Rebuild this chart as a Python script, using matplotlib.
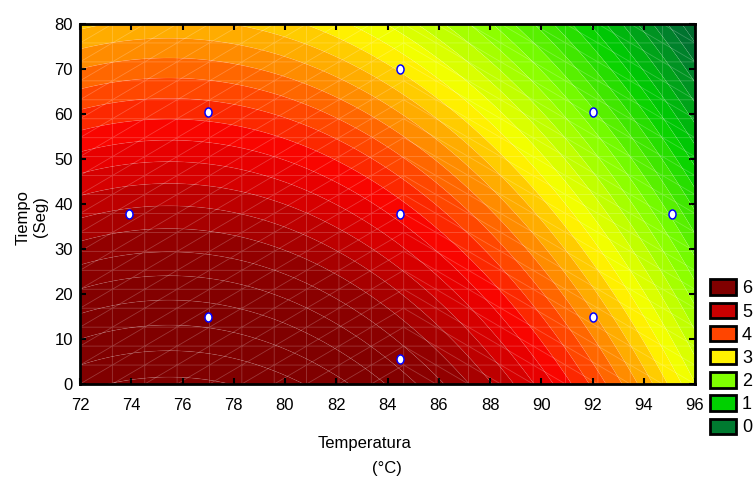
import numpy as np
import matplotlib
matplotlib.use('Agg')
import matplotlib.pyplot as plt
import matplotlib.tri as mtri
from matplotlib.colors import LinearSegmentedColormap
from matplotlib.patches import Patch
from matplotlib.path import Path
from matplotlib.transforms import Affine2D

# Diseño central compuesto (puntos experimentales) y respuesta ajustada
temperatura = [73.9, 77.0, 77.0, 84.5, 84.5, 84.5, 92.0, 92.0, 95.1]
tiempo = [37.75, 60.5, 15.0, 69.9, 37.75, 5.6, 60.5, 15.0, 37.75]
respuesta = [5.25, 4.31, 6.11, 3.17, 4.53, 5.72, 1.84, 3.64, 1.76]

# Leyenda (niveles y colores)
niveles_leyenda = [6, 5, 4, 3, 2, 1, 0]
colores_leyenda = ['#800000', '#c80000', '#ff4500', '#fff200', '#80ff00', '#00d000', '#007a30']

x_ticks = [72, 74, 76, 78, 80, 82, 84, 86, 88, 90, 92, 94, 96]
y_ticks = [0, 10, 20, 30, 40, 50, 60, 70, 80]

plt.rcParams['font.family'] = ['Liberation Sans', 'DejaVu Sans']

# Ajuste de superficie de respuesta cuadrática
t = np.array(temperatura)
s = np.array(tiempo)
A = np.column_stack([np.ones_like(t), t, s, t**2, s**2, t * s])
coef, *_ = np.linalg.lstsq(A, np.array(respuesta), rcond=None)

def superficie(x, y):
    return coef[0] + coef[1]*x + coef[2]*y + coef[3]*x**2 + coef[4]*y**2 + coef[5]*x*y

xx, yy = np.meshgrid(np.linspace(72, 96, 300), np.linspace(0, 80, 300))
zz = superficie(xx, yy)

# rampa de color (valor, color) tipo Statistica
anclas = [-1, 0, 1, 2, 3, 4.15, 4.55, 5.0, 5.2, 5.5, 6]
cols = ['#004a2a', '#007a30', '#00d000', '#80ff00', '#ffff00', '#ff4000',
        '#f80000', '#cc0000', '#b40000', '#920000', '#800000']
vmin, vmax = anclas[0], anclas[-1]
cmap = LinearSegmentedColormap.from_list(
    'stat', [((a - vmin) / (vmax - vmin), c) for a, c in zip(anclas, cols)])

paso = 0.2
niveles = np.round(np.arange(-8, 38) * paso, 2)
medios = (niveles[:-1] + niveles[1:]) / 2
colores_bandas = [cmap((np.clip(m, vmin, vmax) - vmin) / (vmax - vmin)) for m in medios]

fig = plt.figure(figsize=(7.55, 4.86), dpi=100)
ax = fig.add_axes([80/755, 1 - 384/486, 615/755, 360/486])

ax.contourf(xx, yy, zz, levels=niveles, colors=colores_bandas, antialiased=True)
ax.contour(xx, yy, zz, levels=niveles, colors='white', linewidths=0.5, alpha=0.12)

# malla triangulada tenue (estilo Statistica)
gx = np.linspace(72, 96, 20)
gy = np.linspace(0, 80, 20)
px, py = np.meshgrid(gx, gy)
px, py = px.ravel(), py.ravel()
n = len(gx)
tris = []
for j in range(len(gy) - 1):
    for i in range(n - 1):
        a, b = j*n + i, j*n + i + 1
        c, d = (j+1)*n + i, (j+1)*n + i + 1
        if (gx[i] + gx[i+1]) / 2 < 85:
            tris += [[a, b, d], [a, d, c]]
        else:
            tris += [[a, b, c], [b, d, c]]
malla = mtri.Triangulation(px, py, tris)
ax.triplot(malla, color='white', lw=0.6, alpha=0.22)

marcador = Affine2D().scale(0.78, 1.0).transform_path(Path.unit_circle())
ax.plot(temperatura, tiempo, linestyle='none', marker=marcador, ms=6.5,
        mfc='white', mec='#0000ff', mew=1.1, zorder=5)

ax.set_xlim(72, 96)
ax.set_ylim(0, 80)
ax.set_xticks(x_ticks)
ax.set_yticks(y_ticks)
ax.tick_params(direction='in', length=4, width=1.5, labelsize=12,
               top=True, right=True, colors='black')
ax.tick_params(axis='x', pad=10)
ax.tick_params(axis='y', pad=5)
for sp in ax.spines.values():
    sp.set_linewidth(2)

fig.text(365/755, 1 - 443/486, 'Temperatura', ha='center', va='center', fontsize=12)
fig.text(387/755, 1 - 468/486, '(°C)', ha='center', va='center', fontsize=12)
fig.text(32/755, 1 - 217/486, 'Tiempo\n(Seg)', ha='center', va='center',
         rotation=90, fontsize=12, multialignment='center')

handles = [Patch(facecolor=c, edgecolor='black', linewidth=2) for c in colores_leyenda]
fig.legend(handles, [str(v) for v in niveles_leyenda], loc='upper left',
           bbox_to_anchor=(710/755, 1 - 279.5/486), frameon=False, fontsize=13,
           handlelength=1.44, handleheight=0.94, labelspacing=0.29,
           handletextpad=0.33, borderpad=0, borderaxespad=0)

fig.savefig('out.png', dpi=100)
